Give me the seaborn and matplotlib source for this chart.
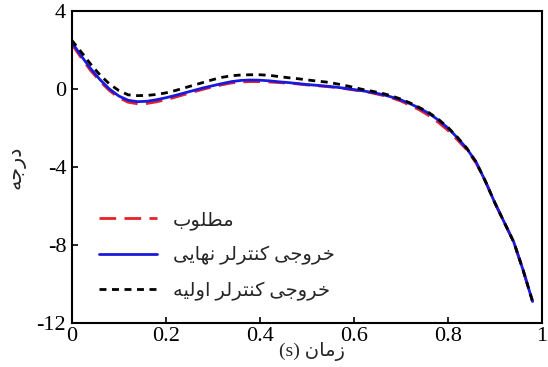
import matplotlib
matplotlib.use("Agg")
import matplotlib.pyplot as plt
import seaborn as sns
import pandas as pd

# --- data -------------------------------------------------------------
t = [0.00, 0.02, 0.04, 0.06, 0.08, 0.10, 0.12, 0.14, 0.16, 0.18,
     0.20, 0.22, 0.24, 0.26, 0.28, 0.30, 0.32, 0.34, 0.36, 0.38,
     0.40, 0.42, 0.44, 0.46, 0.48, 0.50, 0.52, 0.54, 0.56, 0.58,
     0.60, 0.62, 0.64, 0.66, 0.68, 0.70, 0.72, 0.74, 0.76, 0.78,
     0.80, 0.82, 0.84, 0.86, 0.88, 0.90, 0.92, 0.94, 0.96, 0.98]

desired = [2.30, 1.60, 0.95, 0.40, -0.08, -0.45, -0.68, -0.76, -0.74, -0.66,
           -0.55, -0.42, -0.28, -0.14, -0.01, 0.11, 0.22, 0.31, 0.36, 0.38,
           0.38, 0.36, 0.33, 0.30, 0.26, 0.21, 0.17, 0.13, 0.08, 0.02,
           -0.05, -0.12, -0.21, -0.32, -0.45, -0.62, -0.84, -1.08, -1.37, -1.72,
           -2.12, -2.60, -3.12, -3.80, -4.75, -5.85, -6.85, -7.85, -9.30, -10.90]

final_ctrl = [2.40, 1.70, 1.05, 0.48, 0.00, -0.36, -0.58, -0.65, -0.63, -0.55,
              -0.45, -0.33, -0.20, -0.07, 0.06, 0.17, 0.28, 0.38, 0.44, 0.46,
              0.45, 0.42, 0.37, 0.33, 0.28, 0.23, 0.19, 0.15, 0.10, 0.04,
              -0.03, -0.10, -0.18, -0.28, -0.41, -0.56, -0.76, -0.99, -1.26, -1.60,
              -2.00, -2.50, -3.05, -3.75, -4.75, -5.85, -6.85, -7.85, -9.30, -10.90]

initial_ctrl = [2.50, 1.90, 1.28, 0.72, 0.26, -0.08, -0.30, -0.34, -0.33, -0.28,
                -0.20, -0.08, 0.06, 0.20, 0.34, 0.48, 0.60, 0.68, 0.72, 0.73,
                0.73, 0.70, 0.64, 0.58, 0.53, 0.47, 0.41, 0.36, 0.28, 0.19,
                0.08, -0.03, -0.12, -0.22, -0.35, -0.52, -0.72, -0.96, -1.22, -1.56,
                -1.97, -2.47, -3.03, -3.75, -4.75, -5.85, -6.85, -7.85, -9.30, -10.90]

labels = ["مطلوب", "خروجی کنترلر نهایی", "خروجی کنترلر اولیه"]
x_label = "زمان"
y_label = "درجه"
x_ticks = [0, 0.2, 0.4, 0.6, 0.8, 1]
y_ticks = [4, 0, -4, -8, -12]


# --- minimal Persian shaping (contextual forms + visual order) ---------
FORMS = {
    'ا': ('\uFE8D', '\uFE8E', None, None),
    'ب': ('\uFE8F', '\uFE90', '\uFE91', '\uFE92'),
    'ت': ('\uFE95', '\uFE96', '\uFE97', '\uFE98'),
    'ج': ('\uFE9D', '\uFE9E', '\uFE9F', '\uFEA0'),
    'خ': ('\uFEA5', '\uFEA6', '\uFEA7', '\uFEA8'),
    'د': ('\uFEA9', '\uFEAA', None, None),
    'ر': ('\uFEAD', '\uFEAE', None, None),
    'ز': ('\uFEAF', '\uFEB0', None, None),
    'ط': ('\uFEC1', '\uFEC2', '\uFEC3', '\uFEC4'),
    'ک': ('\uFB8E', '\uFB8F', '\uFB90', '\uFB91'),
    'ل': ('\uFEDD', '\uFEDE', '\uFEDF', '\uFEE0'),
    'م': ('\uFEE1', '\uFEE2', '\uFEE3', '\uFEE4'),
    'ن': ('\uFEE5', '\uFEE6', '\uFEE7', '\uFEE8'),
    'ه': ('\uFEE9', '\uFEEA', '\uFEEB', '\uFEEC'),
    'و': ('\uFEED', '\uFEEE', None, None),
    'ی': ('\uFBFC', '\uFBFD', '\uFBFE', '\uFBFF'),
}


def shape(text):
    out = []
    n = len(text)
    for i, ch in enumerate(text):
        if ch not in FORMS:
            out.append(ch)
            continue
        f = FORMS[ch]
        prev = text[i - 1] if i > 0 else None
        nxt = text[i + 1] if i < n - 1 else None
        join_prev = prev in FORMS and FORMS[prev][2] is not None
        join_next = f[2] is not None and nxt in FORMS
        if join_prev and join_next:
            out.append(f[3])
        elif join_prev:
            out.append(f[1])
        elif join_next:
            out.append(f[2])
        else:
            out.append(f[0])
    return "".join(out)[::-1]


# --- plot --------------------------------------------------------------
df = pd.DataFrame({"t": t, "desired": desired,
                   "final": final_ctrl, "initial": initial_ctrl})

sns.set_style("ticks")
plt.rcParams["font.family"] = ["Liberation Serif", "DejaVu Sans"]

fig = plt.figure(figsize=(5.48, 3.67), dpi=100)
ax = fig.add_axes([0.131, 0.120, 0.858, 0.850])

sns.lineplot(data=df, x="t", y="desired", ax=ax, color="#e8202a",
             linewidth=2.0, linestyle=(0, (6, 3)), label=shape(labels[0]))
sns.lineplot(data=df, x="t", y="final", ax=ax, color="#1a1adc",
             linewidth=2.0, label=shape(labels[1]))
sns.lineplot(data=df, x="t", y="initial", ax=ax, color="black",
             linewidth=2.0, linestyle=(0, (2.5, 2)), label=shape(labels[2]))

ax.set_xlim(0, 1)
ax.set_ylim(-12, 4)
ax.set_xticks(x_ticks)
ax.set_xticklabels(["0", "0.2", "0.4", "0.6", "0.8", "1"])
ax.set_yticks(y_ticks)
ax.set_yticklabels([str(v) for v in y_ticks])
ax.tick_params(direction="in", length=4, width=1.2, labelsize=16,
               colors="black", pad=3)
ax.tick_params(axis="y", pad=4)
for sp in ax.spines.values():
    sp.set_visible(True)
    sp.set_linewidth(1.5)
    sp.set_color("black")

ax.set_xlabel("(s) " + shape(x_label), fontsize=14)
ax.xaxis.set_label_coords(0.51, -0.062)
ax.set_ylabel(shape(y_label), fontsize=15, labelpad=8)

ax.legend(loc="upper left", bbox_to_anchor=(0.02, 0.415), frameon=False,
          fontsize=14, handlelength=3.0, handletextpad=0.8,
          labelspacing=0.85)

fig.savefig("out.png", dpi=100)
